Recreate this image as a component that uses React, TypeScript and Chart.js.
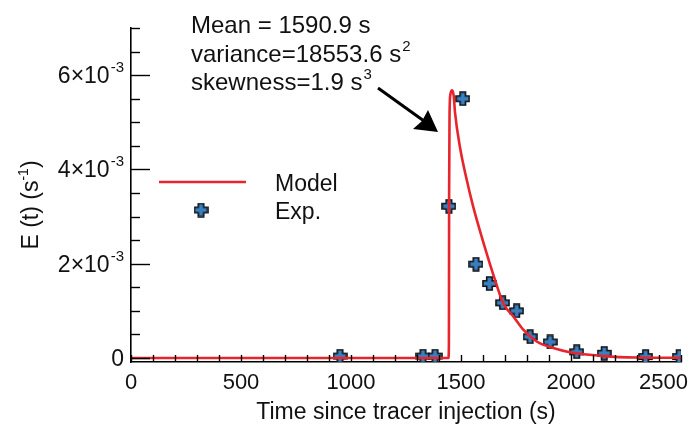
import React, { useEffect, useRef } from 'react';
import { Chart, registerables } from 'chart.js';

Chart.register(...registerables);

// ---- data ----
const modelTime = [0, 1443, 1445, 1446, 1448, 1452, 1460, 1467, 1473, 1495, 1526, 1556, 1605, 1655, 1692, 1738, 1783, 1844, 1920, 1995, 2147, 2298, 2500];
const modelE = [0, 0, 0.0003, 0.0035, 0.0052, 0.0056, 0.00568, 0.00555, 0.0052, 0.00448, 0.00378, 0.0032, 0.0024, 0.00165, 0.00116, 0.00088, 0.0006, 0.00035, 0.00021, 0.00012, 0.00004, 0.00001, 0.000005];

const expTime = [950, 1327, 1382, 1445, 1508, 1568, 1629, 1689, 1753, 1814, 1905, 2026, 2151, 2339, 2492];
const expE = [0.00004, 0.00004, 0.00004, 0.00322, 0.0055, 0.00199, 0.00158, 0.00117, 0.001, 0.00045, 0.00034, 0.00013, 0.0001, 0.00003, 0.00003];

const xTickLabels = [0, 500, 1000, 1500, 2000, 2500];
const xMinorStep = 100;
const yMajorMantissas = [0, 2, 4, 6];
const yMinorStep = 0.0005;
const yExponent = '-3';

const annotationLines = [
  { text: 'Mean = 1590.9 s', sup: '' },
  { text: 'variance=18553.6 s', sup: '2' },
  { text: 'skewness=1.9 s', sup: '3' },
];
const legendModel = 'Model';
const legendExp = 'Exp.';
const xTitle = 'Time since tracer injection (s)';
const yTitleMain = 'E (t) (s';
const yTitleSup = '-1';
const yTitleEnd = ')';

const FONT = '"Liberation Sans", Arial, sans-serif';
const RED = '#e8242c';
const BLUE = '#3a7fc0';

function makePlus(size: number, arm: number): HTMLCanvasElement {
  const c = document.createElement('canvas');
  c.width = size;
  c.height = size;
  const ctx = c.getContext('2d')!;
  const h = size / 2;
  const a = arm / 2;
  const r = h - 1;
  ctx.beginPath();
  ctx.moveTo(h - a, h - r);
  ctx.lineTo(h + a, h - r);
  ctx.lineTo(h + a, h - a);
  ctx.lineTo(h + r, h - a);
  ctx.lineTo(h + r, h + a);
  ctx.lineTo(h + a, h + a);
  ctx.lineTo(h + a, h + r);
  ctx.lineTo(h - a, h + r);
  ctx.lineTo(h - a, h + a);
  ctx.lineTo(h - r, h + a);
  ctx.lineTo(h - r, h - a);
  ctx.lineTo(h - a, h - a);
  ctx.closePath();
  ctx.fillStyle = BLUE;
  ctx.fill();
  ctx.lineWidth = 1.6;
  ctx.strokeStyle = '#111';
  ctx.stroke();
  return c;
}

const decorPlugin = {
  id: 'decor',
  afterDraw(chart: any) {
    const ctx: CanvasRenderingContext2D = chart.ctx;
    const xs = chart.scales.x;
    const ys = chart.scales.y;
    const { left, bottom } = chart.chartArea;
    ctx.save();
    ctx.strokeStyle = '#000';
    ctx.lineWidth = 1.4;
    // x ticks (inward)
    for (let t = xs.min; t <= xs.max + 0.001; t += xMinorStep) {
      const px = Math.round(xs.getPixelForValue(t)) + 0.5;
      ctx.beginPath();
      ctx.moveTo(px, bottom);
      ctx.lineTo(px, bottom - 7);
      ctx.stroke();
    }
    // y ticks (inward)
    const nY = Math.round(ys.max / yMinorStep);
    for (let i = 0; i <= nY; i++) {
      const v = i * yMinorStep;
      const py = Math.round(ys.getPixelForValue(v)) + 0.5;
      const len = i % 4 === 0 ? 19 : 9;
      ctx.beginPath();
      ctx.moveTo(left, py);
      ctx.lineTo(left + len, py);
      ctx.stroke();
    }
    // x labels
    ctx.fillStyle = '#111';
    ctx.font = `22px ${FONT}`;
    ctx.textBaseline = 'alphabetic';
    ctx.textAlign = 'left';
    for (const v of xTickLabels) {
      const s = String(v);
      const w = ctx.measureText(s).width;
      let cx = xs.getPixelForValue(v);
      if (cx + w / 2 > 688) cx = 688 - w / 2;
      ctx.fillText(s, cx - w / 2, 389);
    }
    // y labels
    const rightEdge = 124;
    for (const m of yMajorMantissas) {
      const py = ys.getPixelForValue(m * 1e-3);
      if (m === 0) {
        ctx.font = `23px ${FONT}`;
        const w = ctx.measureText('0').width;
        ctx.fillText('0', rightEdge - w, py + 8);
      } else {
        ctx.font = `15px ${FONT}`;
        const sw = ctx.measureText(yExponent).width;
        ctx.fillText(yExponent, rightEdge - sw, py - 3);
        ctx.font = `23px ${FONT}`;
        const main = `${m}×10`;
        const mw = ctx.measureText(main).width;
        ctx.fillText(main, rightEdge - sw - 1 - mw, py + 8);
      }
    }
    // x title
    ctx.font = `23px ${FONT}`;
    const tw = ctx.measureText(xTitle).width;
    ctx.fillText(xTitle, (xs.left + xs.right) / 2 - tw / 2, 419);
    // y title (rotated)
    ctx.save();
    ctx.translate(38, 205);
    ctx.rotate(-Math.PI / 2);
    ctx.font = `23px ${FONT}`;
    const w1 = ctx.measureText(yTitleMain).width;
    const w3 = ctx.measureText(yTitleEnd).width;
    ctx.font = `14px ${FONT}`;
    const w2 = ctx.measureText(yTitleSup).width;
    const total = w1 + w2 + w3;
    const x0 = -total / 2;
    ctx.font = `23px ${FONT}`;
    ctx.fillText(yTitleMain, x0, 0);
    ctx.font = `14px ${FONT}`;
    ctx.fillText(yTitleSup, x0 + w1, -10);
    ctx.font = `23px ${FONT}`;
    ctx.fillText(yTitleEnd, x0 + w1 + w2, 0);
    ctx.restore();
    // annotation
    const baselines = [33, 62, 90];
    annotationLines.forEach((ln, i) => {
      ctx.font = `24px ${FONT}`;
      ctx.fillText(ln.text, 191, baselines[i]);
      const w = ctx.measureText(ln.text).width;
      if (ln.sup) {
        ctx.font = `15px ${FONT}`;
        ctx.fillText(ln.sup, 191 + w + 1, baselines[i] - 11);
      }
    });
    // arrow
    ctx.strokeStyle = '#000';
    ctx.fillStyle = '#000';
    ctx.lineWidth = 3;
    ctx.beginPath();
    ctx.moveTo(378, 88);
    ctx.lineTo(424, 121);
    ctx.stroke();
    ctx.beginPath();
    ctx.moveTo(438, 132);
    ctx.lineTo(413, 129);
    ctx.lineTo(422, 121);
    ctx.lineTo(428, 110);
    ctx.closePath();
    ctx.fill();
    // legend
    ctx.strokeStyle = RED;
    ctx.lineWidth = 2.5;
    ctx.beginPath();
    ctx.moveTo(159, 182);
    ctx.lineTo(246, 182);
    ctx.stroke();
    const marker = chart.data.datasets[1].pointStyle as HTMLCanvasElement;
    ctx.drawImage(marker, 201 - marker.width / 2, 210 - marker.height / 2);
    ctx.fillStyle = '#111';
    ctx.font = `23px ${FONT}`;
    ctx.fillText(legendModel, 275, 191);
    ctx.fillText(legendExp, 275, 219);
    ctx.restore();
  },
};

export default function App() {
  const ref = useRef<HTMLCanvasElement>(null);
  useEffect(() => {
    if (!ref.current) return;
    const plus = makePlus(15, 5.5);
    const chart = new Chart(ref.current, {
      type: 'scatter',
      data: {
        datasets: [
          {
            label: 'Model',
            data: modelTime.map((t, i) => ({ x: t, y: modelE[i] })),
            showLine: true,
            borderColor: RED,
            borderWidth: 2.6,
            pointRadius: 0,
            cubicInterpolationMode: 'monotone',
            fill: false,
          } as any,
          {
            label: 'Exp.',
            data: expTime.map((t, i) => ({ x: t, y: expE[i] })),
            showLine: false,
            pointStyle: plus,
            pointRadius: 7,
            clip: 0,
          } as any,
        ],
      },
      options: {
        animation: false,
        responsive: false,
        devicePixelRatio: 1,
        layout: { padding: { left: 0, right: 10, top: 28, bottom: 0 } },
        plugins: { legend: { display: false }, tooltip: { enabled: false } },
        scales: {
          x: {
            type: 'linear',
            min: 0,
            max: 2500,
            ticks: { display: false },
            grid: { display: true, drawOnChartArea: false, drawTicks: false },
            border: { display: true, color: '#000', width: 1.6 },
            afterFit: (s: any) => {
              s.height = 68;
            },
          },
          y: {
            type: 'linear',
            min: -0.000085,
            max: 0.007,
            ticks: { display: false },
            grid: { display: true, drawOnChartArea: false, drawTicks: false },
            border: { display: true, color: '#000', width: 1.6 },
            afterFit: (s: any) => {
              s.width = 131;
            },
          },
        },
      },
      plugins: [decorPlugin],
    });
    return () => chart.destroy();
  }, []);
  return (
    <div style={{ position: 'fixed', left: 0, top: 0, width: 691, height: 430, background: '#fff' }}>
      <canvas ref={ref} width={691} height={430} style={{ display: 'block' }} />
    </div>
  );
}
